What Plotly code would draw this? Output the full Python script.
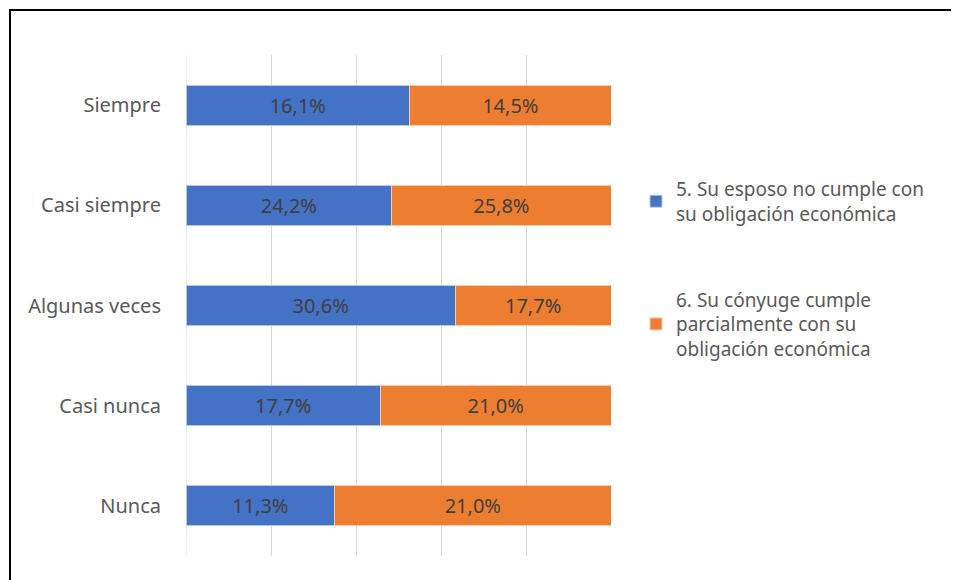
import plotly.graph_objects as go

categories = ["Siempre", "Casi siempre", "Algunas veces", "Casi nunca", "Nunca"]
serie5 = [16.1, 24.2, 30.6, 17.7, 11.3]
serie6 = [14.5, 25.8, 17.7, 21.0, 21.0]
name5 = "5. Su esposo no cumple con<br>su obligación económica"
name6 = "6. Su cónyuge cumple<br>parcialmente con su<br>obligación económica"

def fmt(v):
    return f"{v:.1f}%".replace(".", ",")

FONT = "Noto Sans"
OFF = 8  # page body margin
W, H = 959 - OFF, 580 - OFF
L, T = 186 - OFF, 55 - OFF
PW, PH = 425, 501
R = W - L - PW
B = H - T - PH

fig = go.Figure()
fig.add_trace(go.Bar(
    y=categories, x=serie5, orientation="h", name=name5,
    marker=dict(color="#4472C4", line=dict(color="#B4C7E7", width=1)),
    text=[fmt(v) for v in serie5], textposition="inside", insidetextanchor="middle",
    textfont=dict(color="#404040", size=20, family=FONT),
    legendgroup="a",
))
fig.add_trace(go.Bar(
    y=categories, x=serie6, orientation="h", name=name6,
    marker=dict(color="#ED7D31", line=dict(color="#F8CBAD", width=1)),
    text=[fmt(v) for v in serie6], textposition="inside", insidetextanchor="middle",
    textfont=dict(color="#404040", size=20, family=FONT),
    legendgroup="b",
))

def px_x(x):
    return (x - OFF - L) / PW

def px_y(y):
    return (T + PH - (y - OFF)) / PH

fig.update_layout(
    barmode="stack", barnorm="percent", bargap=0.6,
    width=W, height=H,
    margin=dict(l=L, r=R, t=T, b=B),
    paper_bgcolor="white", plot_bgcolor="white",
    font=dict(family=FONT, color="#595959", size=19),
    uniformtext=dict(mode="show", minsize=10),
    legend=dict(x=px_x(636), y=px_y(170), xanchor="left", yanchor="top",
                font=dict(size=19, color="#595959", family=FONT),
                tracegroupgap=58, itemwidth=30, traceorder="grouped"),
    xaxis=dict(range=[0, 100], dtick=20, showticklabels=False, showgrid=True,
               gridcolor="#D9D9D9", gridwidth=1, zeroline=False, showline=False,
               fixedrange=True),
    yaxis=dict(categoryorder="array", categoryarray=categories, autorange="reversed",
               showgrid=False, zeroline=False, showline=False, ticks="",
               ticklabelstandoff=24, tickfont=dict(size=20, color="#595959", family=FONT)),
    shapes=[
        dict(type="line", xref="paper", yref="paper",
             x0=px_x(9), x1=px_x(980), y0=px_y(10), y1=px_y(10),
             line=dict(color="black", width=2)),
        dict(type="line", xref="paper", yref="paper",
             x0=px_x(10), x1=px_x(10), y0=px_y(9), y1=px_y(600),
             line=dict(color="black", width=2)),
        dict(type="line", xref="x", yref="paper", x0=0, x1=0, y0=0, y1=1,
             line=dict(color="#D9D9D9", width=1), layer="below"),
    ],
)

fig.write_html("out.html")
